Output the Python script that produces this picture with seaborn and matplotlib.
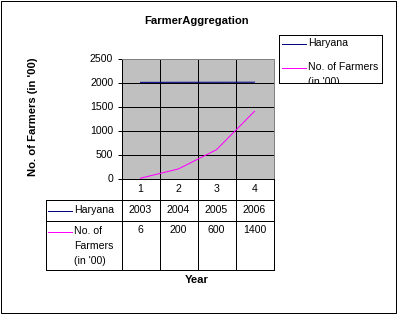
import matplotlib
matplotlib.use("Agg")
import matplotlib.pyplot as plt
import seaborn as sns
import pandas as pd
from matplotlib.patches import Rectangle

# ---- data ----
categories = [1, 2, 3, 4]
haryana = [2003, 2004, 2005, 2006]
farmers = [6, 200, 600, 1400]
series_names = ["Haryana", "No. of Farmers (in '00)"]
table_row_labels = ["Haryana", "No. of\nFarmers\n(in '00)"]
legend_labels = ["Haryana", "No. of Farmers\n(in '00)"]
yticks = [0, 500, 1000, 1500, 2000, 2500]
title = "FarmerAggregation"
xlabel = "Year"
ylabel = "No. of Farmers (in '00)"

colors = {"Haryana": "#000080", "No. of Farmers (in '00)": "#FF00FF"}

df = pd.DataFrame({
    "cat": categories * 2,
    "value": haryana + farmers,
    "series": [series_names[0]] * 4 + [series_names[1]] * 4,
})

plt.rcParams["font.family"] = ["Liberation Sans", "DejaVu Sans"]
FS = 7.6
W, H = 398, 315
fig = plt.figure(figsize=(W / 100, H / 100), dpi=100)

# plot area in pixel coords (half-pixel aligned for crisp lines)
L, R, T, B = 121.5, 273.5, 58.5, 178.5
ax = fig.add_axes([L / W, 1 - B / H, (R - L) / W, (B - T) / H])
ax.set_facecolor("#C0C0C0")
sns.lineplot(data=df, x="cat", y="value", hue="series", palette=colors,
             ax=ax, linewidth=0.75, legend=False)
ax.set_xlim(0.5, 4.5)
ax.set_ylim(0, 2500)
ax.set_yticks(yticks)
ax.set_yticklabels([str(v) for v in yticks], fontsize=FS)
ax.set_xticks([1.5, 2.5, 3.5])
ax.set_xticklabels([])
ax.tick_params(axis="x", length=0)
ax.tick_params(axis="y", length=3, width=0.72, pad=3, color="black")
ax.grid(True, color="black", linewidth=0.72)
ax.set_axisbelow(True)
ax.set_xlabel("")
ax.set_ylabel("")
for s in ["top", "right"]:
    ax.spines[s].set_color("#808080")
    ax.spines[s].set_linewidth(0.72)
for s in ["left", "bottom"]:
    ax.spines[s].set_color("black")
    ax.spines[s].set_linewidth(0.72)

# overlay in pixel coordinates
ov = fig.add_axes([0, 0, 1, 1], zorder=5)
ov.set_xlim(0, W)
ov.set_ylim(H, 0)
ov.axis("off")
ov.patch.set_alpha(0)

lw = 0.72
# outer border
ov.add_patch(Rectangle((0.5, 0.5), 395, 312, fill=False, edgecolor="black", linewidth=lw))

# title and labels
ov.text(197, 21, title, ha="center", va="center", fontsize=FS + 0.5, fontweight="bold")
ov.text(197, 280, xlabel, ha="center", va="center", fontsize=FS + 0.5, fontweight="bold")
ov.text(33, 117, ylabel, ha="center", va="center", rotation=90, fontsize=FS + 0.5, fontweight="bold")

# data table
step = (R - L) / len(categories)
cols = [L + step * k for k in range(len(categories) + 1)]
r0, r1, r2, r3 = B, 199.5, 220.5, 269.5
tl = 45.5
for x in cols:
    ov.plot([x, x], [r0, r3], color="black", linewidth=lw)
ov.plot([tl, tl], [r1, r3], color="black", linewidth=lw)
for y in [r1, r2, r3]:
    ov.plot([tl, R], [y, y], color="black", linewidth=lw)
for i, c in enumerate(categories):
    cx = (cols[i] + cols[i + 1]) / 2
    ov.text(cx, 189, str(c), ha="center", va="center", fontsize=FS)
    ov.text(cx, 210, str(haryana[i]), ha="center", va="center", fontsize=FS)
    ov.text(cx, 230, str(farmers[i]), ha="center", va="center", fontsize=FS)
ov.plot([48, 72], [210.5, 210.5], color=colors[series_names[0]], linewidth=lw)
ov.text(74, 210, table_row_labels[0], ha="left", va="center", fontsize=FS)
ov.plot([48, 72], [231.5, 231.5], color=colors[series_names[1]], linewidth=lw)
for k, line in enumerate(table_row_labels[1].split("\n")):
    ov.text(74, 231 + 15 * k, line, ha="left", va="center", fontsize=FS)

# legend box (separate axes so text is clipped by its box)
lx0, ly0, lx1, ly1 = 278.5, 34.5, 382, 82.5
lg = fig.add_axes([lx0 / W, 1 - ly1 / H, (lx1 - lx0) / W, (ly1 - ly0) / H], zorder=6)
lg.set_xlim(lx0, lx1)
lg.set_ylim(ly1, ly0)
lg.set_xticks([])
lg.set_yticks([])
lg.set_facecolor("white")
for s in lg.spines.values():
    s.set_color("black")
    s.set_linewidth(lw)
lg.plot([282, 306], [43.5, 43.5], color=colors[series_names[0]], linewidth=lw)
lg.text(308, 43, legend_labels[0], ha="left", va="center", fontsize=FS, clip_on=True)
lg.plot([282, 306], [67.5, 67.5], color=colors[series_names[1]], linewidth=lw)
for k, line in enumerate(legend_labels[1].split("\n")):
    lg.text(308, 67 + 15 * k, line, ha="left", va="center", fontsize=FS, clip_on=True)

fig.savefig("out.png", dpi=100)
